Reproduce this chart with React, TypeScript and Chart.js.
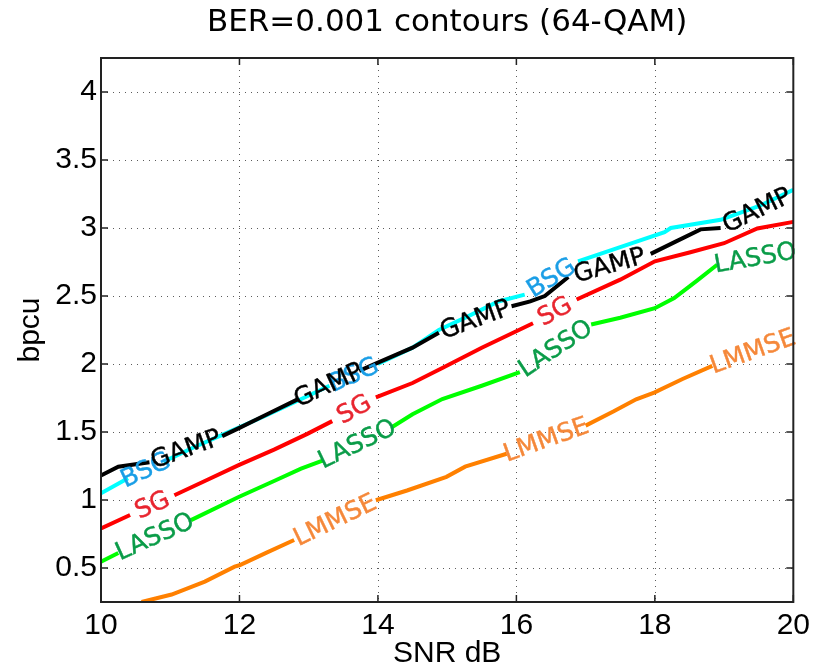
import React, { useEffect, useRef } from "react";
import { Chart, registerables } from "chart.js";

Chart.register(...registerables);

// ---- Data ----
const xTicks = [10, 12, 14, 16, 18, 20];
const yTicks = [0.5, 1, 1.5, 2, 2.5, 3, 3.5, 4];

// null marks a gap in the contour where its inline label sits
const gampX = [10.0, 10.25, 10.7, null, 11.75, 12.0, 12.4, 12.84, null, 13.73, 14.0, 14.5, 14.88, null, 15.93, 16.2, 16.41, 16.75, null, 17.94, 18.3, 18.66, 18.95, null, 20.0];
const gampY = [1.18, 1.245, 1.278, null, 1.47, 1.53, 1.63, 1.74, null, 1.95, 2.01, 2.12, 2.23, null, 2.425, 2.46, 2.5, 2.64, null, 2.81, 2.9, 2.99, 3.0, null, 3.26];

const bsgX = [10.0, 10.39, null, 10.9, 11.35, 11.8, 12.4, 12.84, 13.3, null, 14.0, 14.5, 14.88, 15.3, 15.74, 16.12, null, 16.89, 17.5, 18.14, 18.23, 18.95, 19.5, 20.0];
const bsgY = [1.05, 1.16, null, 1.28, 1.39, 1.49, 1.625, 1.73, 1.84, null, 2.0, 2.12, 2.25, 2.35, 2.46, 2.51, null, 2.755, 2.86, 2.97, 3.0, 3.06, 3.16, 3.28];

const sgX = [10.0, 10.42, null, 11.06, 11.5, 11.98, 12.5, 12.98, 13.34, null, 13.97, 14.5, 14.93, 15.5, 16.24, null, 16.87, 17.5, 18.0, 18.5, 19.0, 19.48, 20.0];
const sgY = [0.79, 0.89, null, 1.035, 1.14, 1.255, 1.37, 1.486, 1.58, null, 1.754, 1.86, 1.97, 2.12, 2.3, null, 2.474, 2.62, 2.755, 2.82, 2.888, 2.997, 3.045];

const lassoX = [10.0, 10.25, null, 11.3, 11.98, 12.5, 12.89, 13.2, null, 14.2, 14.5, 14.93, 15.5, 16.05, null, 17.08, 17.5, 18.0, 18.28, 18.6, 18.9, null, 20.0];
const lassoY = [0.547, 0.61, null, 0.852, 1.02, 1.14, 1.23, 1.29, null, 1.535, 1.63, 1.742, 1.84, 1.94, null, 2.29, 2.34, 2.41, 2.485, 2.61, 2.73, null, 2.83];

const lmmseX = [10.585, 11.02, 11.5, 11.93, 12.0, 12.4, 12.79, null, 13.97, 14.42, 14.99, 15.26, 15.86, null, 17.0, 17.4, 17.73, 17.99, 18.4, 18.83, null, 20.0];
const lmmseY = [0.25, 0.305, 0.40, 0.51, 0.52, 0.615, 0.706, null, 0.998, 1.07, 1.17, 1.245, 1.34, null, 1.547, 1.65, 1.74, 1.79, 1.89, 1.986, null, 2.2];

const seriesNames = ["GAMP", "BSG", "SG", "LASSO", "LMMSE"];
const seriesX = [gampX, bsgX, sgX, lassoX, lmmseX];
const seriesY = [gampY, bsgY, sgY, lassoY, lmmseY];
const lineColors = ["#000000", "#00ffff", "#ff0000", "#00ff00", "#ff8000"];
const labelColors = ["#000000", "#1a9ee6", "#e8252f", "#0a9c48", "#f5883a"];

const titleText = "BER=0.001 contours (64-QAM)";
const xTitle = "SNR dB";
const yTitle = "bpcu";

const AXIS_FONT = "'Liberation Sans', Arial, Helvetica, sans-serif";
const LABEL_FONT = "'DejaVu Sans', sans-serif";

const decorPlugin = {
  id: "decor",
  beforeDatasetsDraw(chart: any) {
    const { ctx, chartArea: a, scales } = chart;
    const xs = scales.x;
    const ys = scales.y;
    ctx.save();
    ctx.strokeStyle = "rgba(50,50,50,0.8)";
    ctx.lineWidth = 1;
    ctx.setLineDash([1, 5]);
    for (const v of xTicks) {
      const px = Math.round(xs.getPixelForValue(v)) + 0.5;
      if (px <= a.left + 2 || px >= a.right - 2) continue;
      ctx.beginPath();
      ctx.moveTo(px, a.top);
      ctx.lineTo(px, a.bottom);
      ctx.stroke();
    }
    for (const v of yTicks) {
      const py = Math.round(ys.getPixelForValue(v)) + 0.5;
      if (py <= a.top + 2 || py >= a.bottom - 2) continue;
      ctx.beginPath();
      ctx.moveTo(a.left, py);
      ctx.lineTo(a.right, py);
      ctx.stroke();
    }
    ctx.restore();
  },
  afterDatasetsDraw(chart: any) {
    const { ctx, chartArea: a, scales } = chart;
    const xs = scales.x;
    const ys = scales.y;
    ctx.save();
    // inline contour labels (GAMP drawn last, on top)
    ctx.font = `25px ${LABEL_FONT}`;
    ctx.textAlign = "center";
    ctx.textBaseline = "middle";
    for (let s = seriesNames.length - 1; s >= 0; s--) {
      const X = seriesX[s];
      const Y = seriesY[s];
      ctx.fillStyle = labelColors[s];
      ctx.strokeStyle = labelColors[s];
      ctx.lineWidth = 0.4;
      for (let i = 1; i < Y.length - 1; i++) {
        if (Y[i] !== null) continue;
        const x0 = xs.getPixelForValue(X[i - 1] as number);
        const y0 = ys.getPixelForValue(Y[i - 1] as number);
        const x1 = xs.getPixelForValue(X[i + 1] as number);
        const y1 = ys.getPixelForValue(Y[i + 1] as number);
        const ang = Math.atan2(y1 - y0, x1 - x0);
        ctx.save();
        ctx.translate((x0 + x1) / 2, (y0 + y1) / 2);
        ctx.rotate(ang);
        ctx.fillText(seriesNames[s], 0, 1);
        ctx.strokeText(seriesNames[s], 0, 1);
        ctx.restore();
      }
    }
    // frame
    ctx.setLineDash([]);
    ctx.strokeStyle = "#222222";
    ctx.lineWidth = 2;
    ctx.strokeRect(a.left, a.top, a.right - a.left, a.bottom - a.top);
    // inward tick marks on all four sides
    const tl = 7;
    ctx.lineWidth = 1.5;
    for (const v of xTicks) {
      const px = xs.getPixelForValue(v);
      ctx.beginPath();
      ctx.moveTo(px, a.bottom);
      ctx.lineTo(px, a.bottom - tl);
      ctx.moveTo(px, a.top);
      ctx.lineTo(px, a.top + tl);
      ctx.stroke();
    }
    for (const v of yTicks) {
      const py = ys.getPixelForValue(v);
      ctx.beginPath();
      ctx.moveTo(a.left, py);
      ctx.lineTo(a.left + tl, py);
      ctx.moveTo(a.right, py);
      ctx.lineTo(a.right - tl, py);
      ctx.stroke();
    }
    ctx.restore();
  },
};

export default function App() {
  const ref = useRef<HTMLCanvasElement | null>(null);

  useEffect(() => {
    if (!ref.current) return;
    const datasets = seriesNames.map((name, s) => ({
      label: name,
      data: seriesX[s].map((x, i) => ({ x: x, y: seriesY[s][i] })),
      borderColor: lineColors[s],
      backgroundColor: lineColors[s],
      borderWidth: 4,
      pointRadius: 0,
      pointHoverRadius: 0,
      showLine: true,
      spanGaps: false,
      fill: false,
      tension: 0,
      clip: 0,
    }));

    const chart = new Chart(ref.current, {
      type: "scatter",
      data: { datasets },
      options: {
        responsive: false,
        animation: false,
        events: [],
        layout: { padding: { left: 0, right: 20, top: 0, bottom: 0 } },
        plugins: {
          legend: { display: false },
          tooltip: { enabled: false },
          title: {
            display: true,
            text: titleText,
            fullSize: false,
            color: "#000000",
            font: { family: LABEL_FONT, size: 31, weight: "normal", lineHeight: 1.2 },
            padding: { top: 4, bottom: 16.8 },
          },
        },
        scales: {
          x: {
            type: "linear",
            min: 10,
            max: 20,
            afterBuildTicks: (sc: any) => {
              sc.ticks = xTicks.map((v) => ({ value: v }));
            },
            afterFit: (sc: any) => {
              sc.height = 68;
            },
            grid: { display: false, drawTicks: false },
            border: { display: false },
            ticks: {
              autoSkip: false,
              maxRotation: 0,
              minRotation: 0,
              padding: 6,
              color: "#000000",
              font: { family: AXIS_FONT, size: 30, lineHeight: 1.2 },
              callback: (v: any) => String(v),
            },
            title: {
              display: true,
              text: xTitle,
              color: "#000000",
              font: { family: AXIS_FONT, size: 30, lineHeight: 1.0 },
              padding: { top: 0, bottom: 1.5 },
            },
          },
          y: {
            type: "linear",
            min: 0.25,
            max: 4.25,
            afterBuildTicks: (sc: any) => {
              sc.ticks = yTicks.map((v) => ({ value: v }));
            },
            afterFit: (sc: any) => {
              sc.width = 101;
            },
            grid: { display: false, drawTicks: false },
            border: { display: false },
            ticks: {
              autoSkip: false,
              padding: 4,
              color: "#000000",
              font: { family: AXIS_FONT, size: 30, lineHeight: 1.2 },
              callback: (v: any) => String(v),
            },
            title: {
              display: true,
              text: yTitle,
              color: "#000000",
              font: { family: AXIS_FONT, size: 30, lineHeight: 1.0 },
              padding: { top: 16, bottom: 0 },
            },
          },
        },
      },
      plugins: [decorPlugin],
    });
    return () => chart.destroy();
  }, []);

  return (
    <div style={{ position: "absolute", left: 0, top: 0, width: 816, height: 670, background: "#ffffff" }}>
      <canvas ref={ref} width={816} height={670} style={{ width: 816, height: 670, display: "block" }} />
    </div>
  );
}
